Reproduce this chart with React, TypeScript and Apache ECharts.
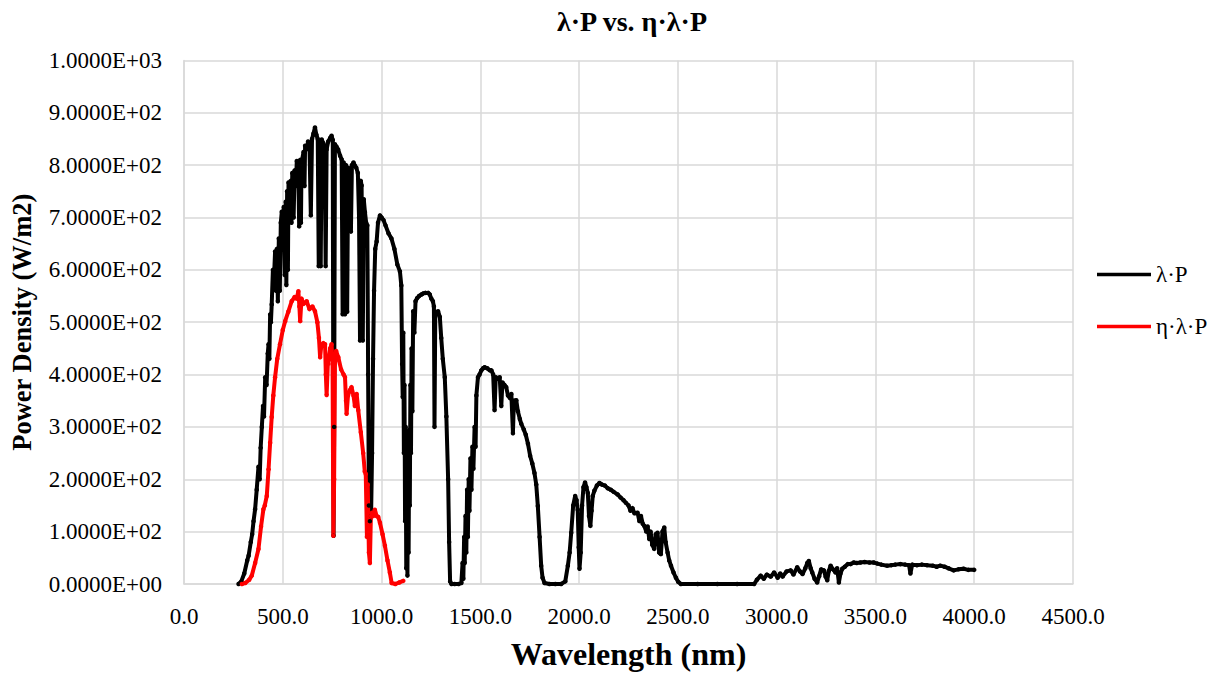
import React, { useEffect, useRef } from "react";
import * as echarts from "echarts";

// λ·P series: [wavelength nm, power density W/m2]
const lambdaP: [number, number][] = [
  [276, 0], [290, 5], [305, 20], [320, 45], [327, 54], [338, 80], [345, 95], [352, 120], [360, 143], [368, 180],
  [377, 224], [383, 200], [388, 260], [394, 300], [400, 340], [405, 320], [411, 395], [418, 380], [424, 440], [428, 458],
  [432, 430], [436, 515], [440, 500], [444, 534], [450, 600], [455, 580], [461, 635], [466, 560], [470, 640], [475, 540],
  [480, 660], [485, 560], [490, 690], [495, 711], [500, 690], [505, 720], [510, 590], [515, 730], [518, 571], [522, 750],
  [526, 600], [529, 767], [535, 740], [540, 770], [544, 690], [548, 785], [555, 700], [560, 790], [566, 760], [571, 808],
  [578, 800], [583, 683], [588, 810], [592, 690], [595, 805], [605, 825], [610, 760], [613, 837], [620, 830], [628, 845],
  [635, 840], [642, 704], [648, 850], [655, 860], [663, 872], [670, 858], [677, 850], [682, 607], [687, 845], [692, 607],
  [697, 849], [705, 842], [712, 835], [717, 607], [722, 830], [730, 845], [740, 852], [747, 856], [753, 848], [757, 92],
  [760, 300], [764, 840], [772, 835], [780, 830], [790, 818], [798, 811], [803, 515], [808, 805], [815, 515], [820, 800],
  [826, 520], [831, 795], [838, 790], [845, 673], [850, 800], [858, 805], [865, 799], [872, 795], [880, 785], [886, 700],
  [891, 465], [895, 770], [899, 761], [905, 465], [910, 735], [916, 710], [922, 690], [928, 685], [932, 400], [936, 150],
  [941, 120], [947, 130], [952, 250], [957, 430], [962, 560], [968, 640], [975, 654], [982, 690], [992, 704], [1000, 700],
  [1010, 695], [1020, 685], [1035, 670], [1050, 660], [1065, 640], [1080, 610], [1093, 597], [1100, 570], [1104, 420], [1107, 357],
  [1110, 480], [1113, 250], [1116, 380], [1119, 120], [1122, 300], [1125, 30], [1128, 200], [1131, 16], [1134, 250], [1137, 60],
  [1140, 294], [1143, 150], [1146, 380], [1149, 250], [1152, 450], [1156, 330], [1160, 521], [1166, 480], [1172, 540], [1180, 546],
  [1190, 550], [1202, 553], [1211, 555], [1222, 556], [1236, 556], [1244, 553], [1252, 545], [1260, 540], [1265, 530], [1268, 300],
  [1272, 520], [1280, 515], [1286, 521], [1295, 510], [1302, 470], [1310, 430], [1320, 395], [1328, 320], [1337, 200], [1342, 80],
  [1347, 5], [1354, 0], [1370, 0], [1390, 0], [1404, 2], [1410, 40], [1414, 10], [1418, 90], [1421, 40], [1425, 130],
  [1429, 60], [1433, 180], [1437, 90], [1441, 200], [1445, 140], [1450, 240], [1455, 180], [1460, 262], [1465, 220], [1471, 300],
  [1476, 262], [1480, 360], [1488, 395], [1496, 400], [1505, 408], [1514, 412], [1522, 414], [1535, 412], [1548, 408], [1556, 408],
  [1565, 400], [1572, 332], [1578, 395], [1590, 392], [1598, 395], [1606, 340], [1612, 385], [1622, 380], [1631, 376], [1640, 360],
  [1650, 355], [1657, 363], [1665, 288], [1670, 350], [1682, 351], [1690, 330], [1700, 315], [1707, 306], [1720, 295], [1730, 285],
  [1741, 268], [1752, 245], [1763, 230], [1774, 212], [1783, 190], [1791, 149], [1800, 90], [1808, 35], [1815, 12], [1825, 2],
  [1850, 0], [1880, 0], [1909, 0], [1930, 5], [1943, 35], [1952, 60], [1960, 98], [1970, 150], [1980, 168], [1987, 160],
  [1993, 142], [1998, 70], [2002, 29], [2008, 60], [2015, 150], [2022, 185], [2030, 194], [2037, 185], [2044, 174], [2050, 130],
  [2057, 111], [2063, 140], [2069, 168], [2077, 178], [2090, 188], [2103, 193], [2115, 190], [2130, 188], [2145, 183], [2160, 180],
  [2175, 176], [2195, 171], [2210, 165], [2225, 160], [2237, 155], [2250, 150], [2260, 140], [2270, 145], [2280, 135], [2296, 136],
  [2305, 120], [2313, 130], [2322, 115], [2330, 111], [2340, 100], [2347, 110], [2355, 86], [2362, 100], [2370, 75], [2380, 67],
  [2388, 95], [2397, 98], [2405, 60], [2414, 57], [2422, 100], [2431, 108], [2438, 80], [2448, 60], [2456, 45], [2465, 35],
  [2478, 22], [2490, 12], [2502, 4], [2515, 0], [2600, 0], [2700, 0], [2800, 0], [2886, 0], [2900, 8], [2919, 16],
  [2935, 10], [2950, 18], [2970, 14], [2987, 22], [3005, 12], [3018, 20], [3030, 14], [3050, 24], [3071, 26], [3085, 18],
  [3104, 32], [3118, 24], [3131, 19], [3145, 30], [3155, 40], [3163, 44], [3172, 30], [3180, 22], [3192, 10], [3205, 3],
  [3215, 15], [3225, 28], [3239, 26], [3248, 14], [3256, 7], [3264, 25], [3273, 35], [3285, 28], [3298, 22], [3306, 30],
  [3315, 3], [3323, 20], [3332, 29], [3345, 33], [3360, 38], [3374, 38], [3390, 41], [3405, 40], [3424, 41], [3445, 42],
  [3470, 41], [3491, 41], [3510, 39], [3530, 37], [3559, 35], [3580, 36], [3600, 37], [3626, 38], [3650, 37], [3670, 36],
  [3677, 20], [3686, 37], [3710, 36], [3735, 37], [3761, 36], [3790, 35], [3810, 33], [3828, 35], [3850, 33], [3870, 30],
  [3896, 26], [3920, 28], [3946, 29], [3970, 27], [4000, 27],
];

// η·λ·P series: [wavelength nm, power density W/m2]
const etaLambdaP: [number, number][] = [
  [293, 0], [310, 2], [330, 8], [343, 16], [360, 40], [377, 67], [390, 110], [402, 143], [409, 150], [419, 168],
  [428, 219], [436, 270], [444, 319], [452, 360], [461, 395], [472, 430], [486, 458], [500, 485], [512, 502], [528, 520],
  [545, 540], [560, 548], [570, 545], [579, 559], [584, 530], [588, 502], [595, 545], [605, 535], [621, 540], [635, 525],
  [650, 530], [663, 521], [675, 500], [683, 470], [689, 433], [695, 455], [705, 460], [714, 458], [718, 400], [722, 361],
  [728, 420], [740, 450], [747, 458], [752, 420], [756, 92], [760, 200], [764, 420], [770, 445], [781, 433], [795, 410],
  [808, 400], [815, 395], [820, 350], [823, 325], [830, 360], [840, 370], [848, 376], [858, 360], [865, 340], [874, 363],
  [882, 332], [895, 290], [907, 250], [915, 215], [920, 210], [926, 90], [930, 190], [936, 60], [941, 40], [946, 130],
  [952, 136], [958, 130], [966, 142], [975, 130], [983, 128], [992, 117], [1005, 95], [1017, 73], [1030, 45], [1042, 22],
  [1051, 2], [1070, 0], [1090, 3], [1110, 6],
];

const xTicks = { min: 0, max: 4500, interval: 500 };
const yTicks = { min: 0, max: 1000, interval: 100 };

const FONT = '"Liberation Serif", "Times New Roman", serif';
const GRID_COLOR = "#d9d9d9";

function sci(v: number): string {
  if (v === 0) return "0.0000E+00";
  const exp = Math.floor(Math.log10(Math.abs(v)) + 1e-9);
  const mant = v / Math.pow(10, exp);
  const sign = exp < 0 ? "-" : "+";
  const e = String(Math.abs(exp)).padStart(2, "0");
  return mant.toFixed(4) + "E" + sign + e;
}

export default function App() {
  const ref = useRef<HTMLDivElement>(null);
  useEffect(() => {
    if (!ref.current) return;
    const chart = echarts.init(ref.current, null, { renderer: "svg" });
    chart.setOption({
      animation: false,
      backgroundColor: "#ffffff",
      textStyle: { fontFamily: FONT, color: "#000" },
      title: {
        text: "λ·P vs. η·λ·P",
        left: 627,
        top: 2,
        textAlign: "center",
        textStyle: { fontFamily: FONT, fontSize: 28, fontWeight: "bold", color: "#000" },
      },
      grid: { left: 182, right: 139, top: 60.4, bottom: 85.7, containLabel: false },
      legend: {
        orient: "vertical",
        left: 1097,
        top: 263,
        icon: "rect",
        itemWidth: 54,
        itemHeight: 3.5,
        itemGap: 29,
        padding: 0,
        textStyle: { fontFamily: FONT, fontSize: 23, color: "#000" },
        data: ["λ·P", "η·λ·P"],
      },
      xAxis: {
        type: "value",
        min: xTicks.min,
        max: xTicks.max,
        interval: xTicks.interval,
        name: "Wavelength (nm)",
        nameLocation: "middle",
        nameGap: 54,
        nameTextStyle: { fontFamily: FONT, fontSize: 32, fontWeight: "bold", color: "#000" },
        axisLine: { show: true, lineStyle: { color: GRID_COLOR, width: 1.5 } },
        axisTick: { show: false },
        axisLabel: {
          margin: 21,
          fontFamily: FONT,
          fontSize: 23,
          color: "#000",
          formatter: (v: number) => v.toFixed(1),
        },
        splitLine: { show: true, lineStyle: { color: GRID_COLOR, width: 1.5 } },
      },
      yAxis: {
        type: "value",
        min: yTicks.min,
        max: yTicks.max,
        interval: yTicks.interval,
        name: "Power Density (W/m2)",
        nameLocation: "middle",
        nameGap: 149,
        nameTextStyle: { fontFamily: FONT, fontSize: 26.5, fontWeight: "bold", color: "#000" },
        axisLine: { show: true, lineStyle: { color: GRID_COLOR, width: 1.5 } },
        axisTick: { show: false },
        axisLabel: {
          margin: 22,
          fontFamily: FONT,
          fontSize: 23,
          color: "#000",
          formatter: (v: number) => sci(v),
        },
        splitLine: { show: true, lineStyle: { color: GRID_COLOR, width: 1.5 } },
      },
      series: [
        {
          name: "λ·P",
          type: "line",
          data: lambdaP,
          symbol: "circle",
          symbolSize: 4.5,
          showSymbol: true,
          showAllSymbol: true,
          lineStyle: { color: "#000000", width: 4 },
          itemStyle: { color: "#000000" },
        },
        {
          name: "η·λ·P",
          type: "line",
          data: etaLambdaP,
          symbol: "circle",
          symbolSize: 4.5,
          showSymbol: true,
          showAllSymbol: true,
          lineStyle: { color: "#ff0000", width: 4 },
          itemStyle: { color: "#ff0000" },
        },
      ],
    });
    return () => chart.dispose();
  }, []);
  return (
    <div
      ref={ref}
      style={{ position: "absolute", left: 0, top: 0, width: 1212, height: 675, background: "#fff" }}
    />
  );
}
